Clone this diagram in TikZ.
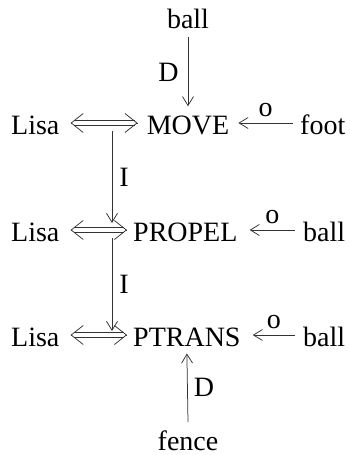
\documentclass[tikz,border=0pt]{standalone}
\usepackage{fontspec}
\setmainfont{Liberation Serif}
\usetikzlibrary{arrows.meta,calc}
\begin{document}
\begin{tikzpicture}[x=1pt,y=-1pt,
  lbl/.style={font=\fontsize{28}{30}\selectfont, inner sep=0pt, anchor=base},
  lblw/.style={lbl, anchor=base west},
  tag/.style={font=\fontsize{28}{30}\selectfont, inner sep=0pt},
  sarr/.style={draw=black!80, line width=0.75pt, -{Straight Barb[length=9pt,width=11pt,line width=0.75pt]}},
  dline/.style={draw=black!80, line width=0.75pt, shorten <=3pt, shorten >=3pt},
  dtip/.style={draw=black!80, line width=0.75pt, -{Straight Barb[length=12pt,width=19pt,line width=0.75pt]}}]
\useasboundingbox (0,0) rectangle (350,455);
% nodes
\node[lbl]  (ballT)  at (188,28)  {ball};
\node[lblw] (lisa1)  at (11,134)  {Lisa};
\node[lbl]  (move)   at (188,134) {MOVE};
\node[lblw] (foot)   at (300,134) {foot};
\node[lblw] (lisa2)  at (11,241)  {Lisa};
\node[lblw] (propel) at (133,241) {PROPEL};
\node[lblw] (ball2)  at (303,241) {ball};
\node[lblw] (lisa3)  at (11,346)  {Lisa};
\node[lblw] (ptrans) at (133,346) {PTRANS};
\node[lblw] (ball3)  at (303,346) {ball};
\node[lbl]  (fence)  at (188,450) {fence};
% double arrow end points
\coordinate (a1) at ($(lisa1.base east)+(11,-11)$);
\coordinate (b1) at ($(move.base west)+(-9,-11)$);
\coordinate (a2) at ($(lisa2.base east)+(11,-11)$);
\coordinate (b2) at ($(propel.base west)+(-6,-11)$);
\coordinate (a3) at ($(lisa3.base east)+(11,-11)$);
\coordinate (b3) at ($(ptrans.base west)+(-6,-11)$);
% double arrows
\foreach \i in {1,2,3}{
  \draw[dline] ($(a\i)+(0,-2.3)$) -- ($(b\i)+(0,-2.3)$);
  \draw[dline] ($(a\i)+(0,2.3)$) -- ($(b\i)+(0,2.3)$);
  \draw[dtip] ($(a\i)+(0.5,0)$) -- (a\i);
  \draw[dtip] ($(b\i)+(-0.5,0)$) -- (b\i);
}
% junction points on the double arrows
\coordinate (m1) at (112,123);
\coordinate (m2) at (112,230);
\coordinate (m3) at (112,335);
% object arrows
\draw[sarr] ($(foot.base west)+(-7,-11)$) -- node[tag, midway, above=6pt] {o} ($(move.base east)+(9,-11)$);
\draw[sarr] ($(ball2.base west)+(-8,-11)$) -- node[tag, midway, above=6pt] {o} ($(propel.base east)+(12,-11)$);
\draw[sarr] ($(ball3.base west)+(-8,-11)$) -- node[tag, midway, above=6pt] {o} ($(ptrans.base east)+(12,-11)$);
% direction arrows
\draw[sarr] ($(ballT.south)+(0,9)$) -- node[tag, midway, left=9pt] {D} ($(move.north)+(0,-9)$);
\draw[sarr] ($(fence.north)+(0,-8)$) -- node[tag, midway, right=6pt] {D} ($(ptrans.south)+(0,7)$);
% instrument arrows
\draw[sarr] ($(m1)+(0,8)$) -- node[tag, midway, right=7pt] {I} ($(m2)+(0,-7)$);
\draw[sarr] ($(m2)+(0,8)$) -- node[tag, midway, right=7pt] {I} ($(m3)+(0,-4)$);
\end{tikzpicture}
\end{document}
